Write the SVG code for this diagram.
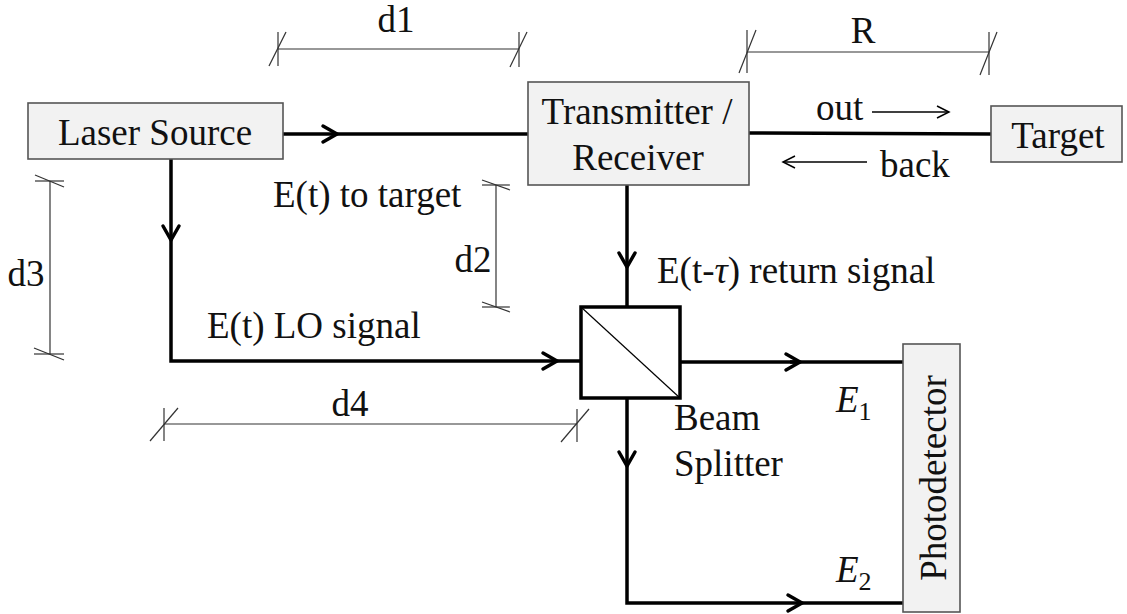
<svg xmlns="http://www.w3.org/2000/svg" width="1127" height="614" viewBox="0 0 1127 614">
<style>
.box{fill:#f2f2f2;stroke:#555;stroke-width:1.6}
.t{font-family:"Liberation Serif","Times New Roman",serif;font-size:37px;fill:#111}
.m{text-anchor:middle}
.w{fill:none;stroke:#000;stroke-width:3.5;stroke-linejoin:miter}
.ah{fill:none;stroke:#000;stroke-width:3.5;stroke-linecap:round;stroke-linejoin:miter}
.dim{fill:none;stroke:#333;stroke-width:1.2}
.thin{fill:none;stroke:#000;stroke-width:1.5}
</style>
<rect width="1127" height="614" fill="#fff"/>
<g id="connectors">
  <line class="w" x1="283" y1="134" x2="528" y2="134"/>
  <path class="ah" d="M323,126 L337,134 L323,142"/>
  <path class="w" d="M749,133 L991,134" stroke-width="4"/>
  <path class="w" d="M171,159 L171,361 L581,361"/>
  <path class="ah" d="M163,226 L171,240 L179,226"/>
  <path class="ah" d="M543,353 L557,361 L543,369"/>
  <line class="w" x1="627" y1="185" x2="627" y2="307"/>
  <path class="ah" d="M619,253 L627,267 L635,253"/>
  <line class="w" x1="680" y1="362" x2="800" y2="362" stroke-width="5"/>
  <line class="w" x1="790" y1="362" x2="903" y2="362"/>
  <path class="ah" d="M786,354 L800,362 L786,370"/>
  <path class="w" d="M627,398 L627,603 L903,603"/>
  <path class="ah" d="M619,452 L627,466 L635,452"/>
  <path class="ah" d="M788,595 L802,603 L788,611"/>
  <line class="thin" x1="872" y1="112" x2="949" y2="112"/>
  <path class="thin" d="M937,106 L949,112 L937,118"/>
  <line class="thin" x1="783" y1="162" x2="867" y2="162"/>
  <path class="thin" d="M795,156 L783,162 L795,168"/>
</g>
<g id="dimensions">
  <g id="dim-d1">
    <line class="dim" x1="278" y1="49" x2="519" y2="49"/>
    <line class="dim" x1="278" y1="32" x2="278" y2="66"/>
    <line class="dim" x1="269" y1="66" x2="286" y2="32"/>
    <line class="dim" x1="519" y1="32" x2="519" y2="67"/>
    <line class="dim" x1="510" y1="67" x2="527" y2="32"/>
    <text class="t m" x="396" y="32">d1</text>
  </g>
  <g id="dim-R">
    <line class="dim" x1="747" y1="52" x2="989" y2="52"/>
    <line class="dim" x1="747" y1="30" x2="747" y2="73"/>
    <line class="dim" x1="739" y1="73" x2="756" y2="30"/>
    <line class="dim" x1="989" y1="32" x2="989" y2="75"/>
    <line class="dim" x1="980" y1="75" x2="997" y2="32"/>
    <text class="t m" x="863" y="43">R</text>
  </g>
  <g id="dim-d3">
    <line class="dim" x1="50" y1="181" x2="50" y2="354"/>
    <line class="dim" x1="35" y1="181" x2="64" y2="181"/>
    <line class="dim" x1="35" y1="175" x2="64" y2="187"/>
    <line class="dim" x1="34" y1="354" x2="64" y2="354"/>
    <line class="dim" x1="34" y1="348" x2="64" y2="360"/>
    <text class="t m" x="26" y="286">d3</text>
  </g>
  <g id="dim-d2">
    <line class="dim" x1="496" y1="185" x2="496" y2="307"/>
    <line class="dim" x1="482" y1="185" x2="510" y2="185"/>
    <line class="dim" x1="482" y1="180" x2="510" y2="190"/>
    <line class="dim" x1="482" y1="307" x2="510" y2="307"/>
    <line class="dim" x1="482" y1="302" x2="510" y2="312"/>
    <text class="t m" x="473" y="272">d2</text>
  </g>
  <g id="dim-d4">
    <line class="dim" x1="164" y1="424" x2="577" y2="424"/>
    <line class="dim" x1="164" y1="408" x2="164" y2="441"/>
    <line class="dim" x1="150" y1="441" x2="178" y2="408"/>
    <line class="dim" x1="577" y1="409" x2="577" y2="442"/>
    <line class="dim" x1="561" y1="442" x2="589" y2="409"/>
    <text class="t m" x="350" y="416">d4</text>
  </g>
</g>
<g id="laser-source">
  <rect class="box" x="28" y="103" width="255" height="56"/>
  <text class="t m" x="155" y="145">Laser Source</text>
</g>
<g id="transmitter-receiver">
  <rect class="box" x="528" y="82" width="221" height="103"/>
  <text class="t m" x="637" y="124">Transmitter /</text>
  <text class="t m" x="638" y="170">Receiver</text>
</g>
<g id="target">
  <rect class="box" x="991" y="106" width="131" height="56"/>
  <text class="t m" x="1058" y="148">Target</text>
</g>
<g id="beam-splitter">
  <rect x="581" y="307" width="99" height="91" fill="#fff" stroke="#000" stroke-width="3.5"/>
  <line x1="581" y1="307" x2="680" y2="398" stroke="#000" stroke-width="1.2"/>
  <text class="t" x="674" y="430">Beam</text>
  <text class="t" x="674" y="476">Splitter</text>
</g>
<g id="photodetector">
  <rect class="box" x="903" y="344" width="57" height="268"/>
  <text class="t m" transform="translate(946,478) rotate(-90)" x="0" y="0">Photodetector</text>
</g>
<g id="labels">
  <text class="t" x="273" y="207">E(t) to target</text>
  <text class="t" x="207" y="338">E(t) LO signal</text>
  <text class="t" x="657" y="283">E(t-<tspan font-style="italic">τ</tspan>) return signal</text>
  <text class="t" x="816" y="120">out</text>
  <text class="t" x="880" y="177">back</text>
  <text class="t" x="836" y="412"><tspan font-style="italic">E</tspan><tspan font-size="26" dy="8">1</tspan></text>
  <text class="t" x="836" y="582"><tspan font-style="italic">E</tspan><tspan font-size="26" dy="8">2</tspan></text>
</g>
</svg>
